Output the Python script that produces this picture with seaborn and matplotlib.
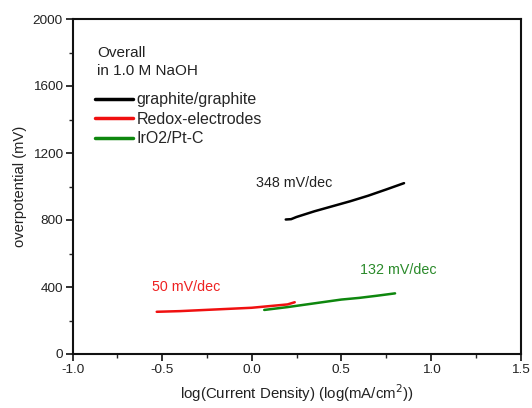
import numpy as np
import pandas as pd
import matplotlib
matplotlib.use("Agg")
import matplotlib.pyplot as plt
import seaborn as sns
from matplotlib.ticker import MultipleLocator

# Data
graphite_x = [0.19, 0.22, 0.25, 0.35, 0.45, 0.55, 0.65, 0.75, 0.85]
graphite_y = [803, 805, 818, 852, 882, 912, 945, 982, 1020]
redox_x = [-0.53, -0.40, -0.20, 0.00, 0.10, 0.20, 0.24]
redox_y = [252, 256, 266, 276, 286, 296, 309]
iro2_x = [0.07, 0.20, 0.30, 0.40, 0.50, 0.60, 0.70, 0.80]
iro2_y = [263, 280, 295, 310, 325, 335, 348, 362]

series_names = ["graphite/graphite", "Redox-electrodes", "IrO2/Pt-C"]
series_colors = ["#000000", "#f01010", "#0e870e"]
slope_labels = ["348 mV/dec", "50 mV/dec", "132 mV/dec"]
slope_label_colors = ["#222222", "#ee2222", "#2a8a2a"]
slope_label_pos = [(0.236, 1021), (-0.367, 400), (0.819, 501)]

df = pd.concat([
    pd.DataFrame({"x": graphite_x, "y": graphite_y, "s": series_names[0]}),
    pd.DataFrame({"x": redox_x, "y": redox_y, "s": series_names[1]}),
    pd.DataFrame({"x": iro2_x, "y": iro2_y, "s": series_names[2]}),
])

sns.set_style("white")
plt.rcParams["font.family"] = ["Liberation Sans", "DejaVu Sans"]

fig = plt.figure(figsize=(5.32, 4.08), dpi=100)
ax = fig.add_axes([72.5 / 532, 1 - 354 / 408, 448 / 532, 335 / 408])

sns.lineplot(data=df, x="x", y="y", hue="s", palette=dict(zip(series_names, series_colors)),
             sort=False, estimator=None, linewidth=1.8, ax=ax, legend=False)

ax.set_xlim(-1.0, 1.5)
ax.set_ylim(0, 2000)
ax.xaxis.set_major_locator(MultipleLocator(0.5))
ax.xaxis.set_minor_locator(MultipleLocator(0.25))
ax.yaxis.set_major_locator(MultipleLocator(400))
ax.yaxis.set_minor_locator(MultipleLocator(200))
ax.xaxis.set_major_formatter(matplotlib.ticker.FormatStrFormatter("%.1f"))
ax.tick_params(axis="both", which="major", direction="out", length=5, width=1.3,
               labelsize=9.7, colors="#222222", pad=2)
ax.tick_params(axis="both", which="minor", direction="out", length=3, width=1.0)
ax.tick_params(bottom=True, left=True, top=False, right=False)
ax.tick_params(which="minor", bottom=True, left=True, top=False, right=False)
for sp in ax.spines.values():
    sp.set_visible(True)
    sp.set_color("#111111")
    sp.set_linewidth(1.5)

ax.set_xlabel("log(Current Density) (log(mA/cm$^2$))", fontsize=10.8, color="#222222", labelpad=5)
ax.set_ylabel("overpotential (mV)", fontsize=10.6, color="#222222", labelpad=4)

for lab, col, (tx, ty) in zip(slope_labels, slope_label_colors, slope_label_pos):
    ax.text(tx, ty, lab, color=col, fontsize=10.3, ha="center", va="center")

ax.text(97 / 532, 1 - 53 / 408, "Overall", transform=fig.transFigure,
        fontsize=11, color="#222222", ha="left", va="center")
ax.text(97 / 532, 1 - 71 / 408, "in 1.0 M NaOH", transform=fig.transFigure,
        fontsize=11, color="#222222", ha="left", va="center")

handles = [plt.Line2D([], [], color=c, linewidth=2.5) for c in series_colors]
fig.legend(handles, series_names, loc="upper left", bbox_to_anchor=(91.8 / 532, 1 - 89 / 408),
           frameon=False, fontsize=11.5, handlelength=2.4, handletextpad=0.2,
           labelspacing=0.28, borderaxespad=0, borderpad=0.2)

fig.savefig("out.png", dpi=100)
